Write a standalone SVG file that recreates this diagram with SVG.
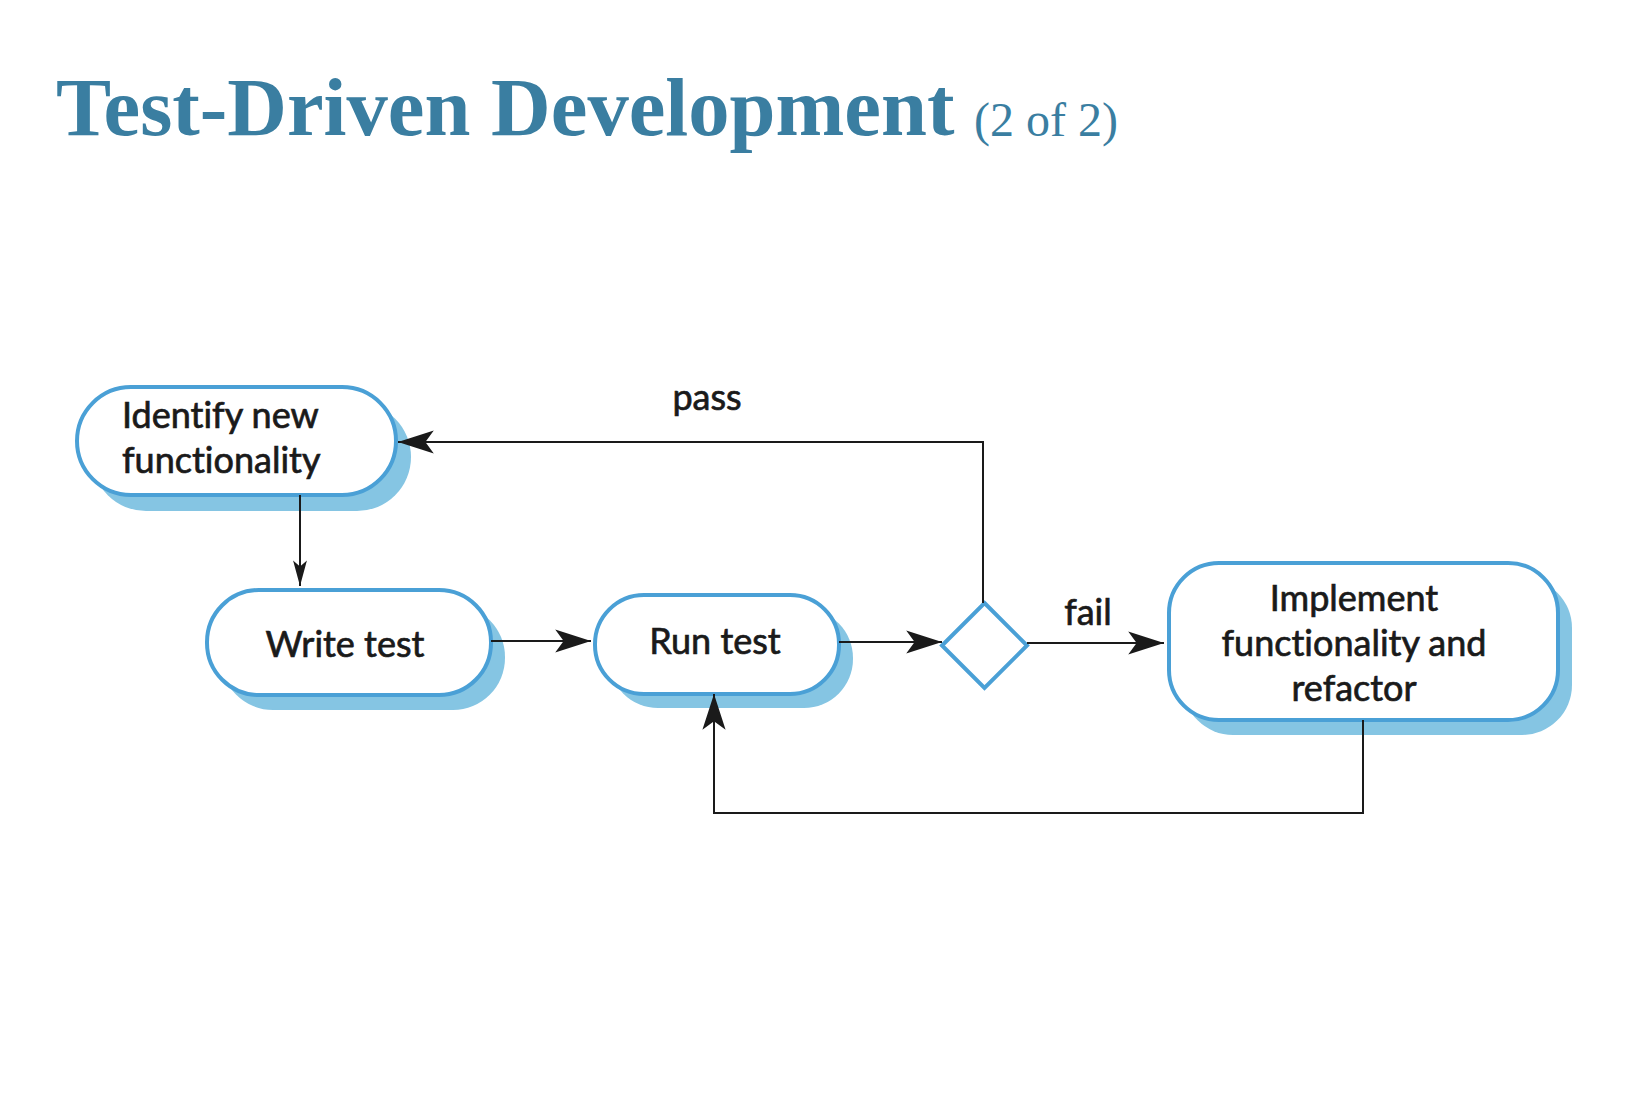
<svg xmlns="http://www.w3.org/2000/svg" width="1626" height="1100" viewBox="0 0 1626 1100">
<defs>
<style>
.title{font-family:"Liberation Serif","Times New Roman",serif;fill:#3a7ea1;}
.lbl{font-family:Lato,"Liberation Sans",sans-serif;font-size:36px;fill:#1a1a1a;stroke:#1a1a1a;stroke-width:0.7;font-variant-ligatures:none;font-feature-settings:"liga" 0;}
.node{fill:#ffffff;stroke:#4aa0d6;stroke-width:4;}
.shadow{fill:#85c5e3;}
.conn{fill:none;stroke:#1a1a1a;stroke-width:2;}
</style>
<marker id="arr" markerUnits="userSpaceOnUse" markerWidth="40" markerHeight="30" viewBox="-36 -12 38 24" refX="0" refY="0" orient="auto">
<path d="M0,0 L-34,-11 L-26,0 L-34,11 Z" fill="#1a1a1a"/>
</marker>
<marker id="arrs" markerUnits="userSpaceOnUse" markerWidth="30" markerHeight="20" viewBox="-24 -8 26 16" refX="0" refY="0" orient="auto">
<path d="M0,0 L-22,-6 L-17,0 L-22,6 Z" fill="#1a1a1a"/>
</marker>
</defs>
<rect width="1626" height="1100" fill="#ffffff"/>
<g id="title">
<text class="title" x="56" y="135" font-size="82.6" font-weight="bold">Test-Driven Development</text>
<text class="title" x="974" y="136" font-size="48">(2 of 2)</text>
</g>
<g id="node-identify">
<rect class="shadow" x="92" y="403" width="319" height="108" rx="54"/>
<rect class="node" x="77" y="387" width="319" height="108" rx="54"/>
<text class="lbl" x="122" y="428" font-size="36.5">Identify new</text>
<text class="lbl" x="122" y="473" font-size="36.5">functionality</text>
</g>
<g id="node-write">
<rect class="shadow" x="221" y="605" width="284" height="105" rx="52"/>
<rect class="node" x="207" y="590" width="284" height="105" rx="52"/>
<text class="lbl" x="345" y="657" text-anchor="middle">Write test</text>
</g>
<g id="node-run">
<rect class="shadow" x="609" y="609" width="244" height="99" rx="49"/>
<rect class="node" x="595" y="595" width="244" height="99" rx="49"/>
<text class="lbl" x="715" y="654" text-anchor="middle">Run test</text>
</g>
<g id="node-decision">
<polygon class="node" points="984.5,603 1027,645.5 984.5,688 942,645.5"/>
</g>
<g id="node-implement">
<rect class="shadow" x="1183" y="578" width="389" height="157" rx="50"/>
<rect class="node" x="1169" y="563" width="389" height="157" rx="50"/>
<text class="lbl" x="1354" y="611" text-anchor="middle" font-size="38.5">Implement</text>
<text class="lbl" x="1354" y="656" text-anchor="middle" font-size="38.5">functionality and</text>
<text class="lbl" x="1354" y="701" text-anchor="middle" font-size="38.5">refactor</text>
</g>
<g id="connectors">
<path class="conn" d="M300,495 V586" stroke-width="1.5" marker-end="url(#arrs)"/>
<path class="conn" d="M491,641 H591" marker-end="url(#arr)"/>
<path class="conn" d="M839,642 H942" marker-end="url(#arr)"/>
<path class="conn" d="M1027,643 H1164" marker-end="url(#arr)"/>
<path class="conn" d="M983,603 V442 H398" marker-end="url(#arr)"/>
<path class="conn" d="M1363,720 V813 H714 V694" marker-end="url(#arr)"/>
<text class="lbl" x="707" y="410" text-anchor="middle">pass</text>
<text class="lbl" x="1088" y="625" text-anchor="middle">fail</text>
</g>
</svg>
